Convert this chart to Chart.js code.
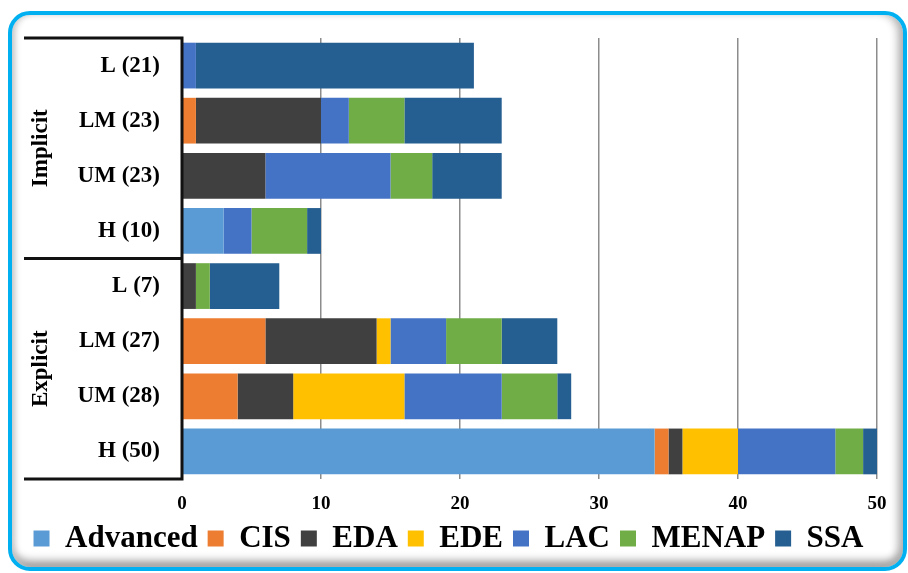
<!DOCTYPE html>
<html>
<head>
<meta charset="utf-8">
<script src="https://cdn.jsdelivr.net/npm/chart.js@4/dist/chart.umd.min.js"></script>
<style>
  html, body { margin: 0; padding: 0; background: #fff; }
  #wrap { position: relative; width: 908px; height: 573px; overflow: hidden; }
  #myChart { position: absolute; left: 0; top: 0; }
  #frame {
    position: absolute; left: 8px; top: 11px; width: 891px; height: 552px;
    border: 4px solid #00b0f0; border-radius: 22px;
    box-shadow: inset 6px 0 6px -3px #c8c8c8, inset -8px 0 8px -3px #b0b0b0, inset 0 -10px 8px -4px #999;
    pointer-events: none;
  }
</style>
</head>
<body>
<div id="wrap">
  <canvas id="myChart" width="908" height="573"></canvas>
  <div id="frame"></div>
</div>
<script>
const categories = ['L (21)', 'LM (23)', 'UM (23)', 'H (10)', 'L (7)', 'LM (27)', 'UM (28)', 'H (50)']
const groups = ['Implicit', 'Explicit']
const advanced = [0, 0, 0, 3, 0, 0, 0, 34]
const cis      = [0, 1, 0, 0, 0, 6, 4, 1]
const eda      = [0, 9, 6, 0, 1, 8, 4, 1]
const ede      = [0, 0, 0, 0, 0, 1, 8, 4]
const lac      = [1, 2, 9, 2, 0, 4, 7, 7]
const menap    = [0, 4, 3, 4, 1, 4, 4, 2]
const ssa      = [20, 7, 5, 1, 5, 4, 1, 1]
const xTicks   = [0, 10, 20, 30, 40, 50]

const serif = "'Liberation Serif', 'DejaVu Serif', serif"

// black table around the category labels + group names
const groupTable = {
  id: 'groupTable',
  afterDraw(chart) {
    const c = chart.ctx
    const y = chart.scales.y
    const left = 24
    const right = chart.chartArea.left
    const step = y.getPixelForValue(1) - y.getPixelForValue(0)
    const top = y.getPixelForValue(0) - step / 2
    const mid = y.getPixelForValue(3) + step / 2
    const bot = y.getPixelForValue(7) + step / 2
    c.save()
    c.strokeStyle = '#111'
    c.lineWidth = 3
    c.beginPath()
    c.moveTo(left, top); c.lineTo(right, top)
    c.moveTo(left, mid); c.lineTo(right, mid)
    c.moveTo(left, bot); c.lineTo(right, bot)
    c.moveTo(right, top - 1.5); c.lineTo(right, bot + 1.5)
    c.stroke()
    c.fillStyle = '#000'
    c.font = 'bold 23px ' + serif
    c.textAlign = 'center'
    c.textBaseline = 'middle'
    const centers = [(top + mid) / 2, (mid + bot) / 2]
    groups.forEach((g, i) => {
      c.save()
      c.translate(41, centers[i])
      c.rotate(-Math.PI / 2)
      c.fillText(g, 0, 0)
      c.restore()
    })
    c.restore()
  }
}

const ctx = document.getElementById('myChart')

const myChart = new Chart(ctx, {
  type: 'bar',
  data: {
    labels: categories,
    datasets: [
      { label: 'Advanced', data: advanced, backgroundColor: '#5b9bd5' },
      { label: 'CIS', data: cis, backgroundColor: '#ed7d31' },
      { label: 'EDA', data: eda, backgroundColor: '#404040' },
      { label: 'EDE', data: ede, backgroundColor: '#ffc000' },
      { label: 'LAC', data: lac, backgroundColor: '#4472c4' },
      { label: 'MENAP', data: menap, backgroundColor: '#70ad47' },
      { label: 'SSA', data: ssa, backgroundColor: '#255e91' }
    ]
  },
  options: {
    indexAxis: 'y',
    responsive: false,
    animation: false,
    categoryPercentage: 1,
    barPercentage: 0.83,
    layout: { padding: { left: 20, right: 31, top: 38, bottom: 9 } },
    scales: {
      x: {
        stacked: true,
        min: 0,
        max: 50,
        afterBuildTicks: (s) => { s.ticks = xTicks.map(v => ({ value: v })) },
        afterFit: (s) => { s.height = 34 },
        grid: { color: '#8c8c8c', lineWidth: 1.5, drawTicks: false },
        border: { display: false },
        ticks: { color: '#000', padding: 14, font: { family: serif, size: 19, weight: 'bold' } }
      },
      y: {
        stacked: true,
        afterFit: (s) => { s.width = 162 },
        grid: { display: false },
        border: { display: false },
        ticks: { color: '#000', padding: 14, font: { family: serif, size: 23, weight: 'bold' } }
      }
    },
    plugins: {
      legend: {
        position: 'bottom',
        labels: {
          boxWidth: 16,
          boxHeight: 16,
          padding: 10,
          color: '#000',
          font: { family: serif, size: 31, weight: 'bold' }
        }
      },
      title: { display: false },
      tooltip: { enabled: false }
    }
  },
  plugins: [groupTable]
})
</script>
</body>
</html>
